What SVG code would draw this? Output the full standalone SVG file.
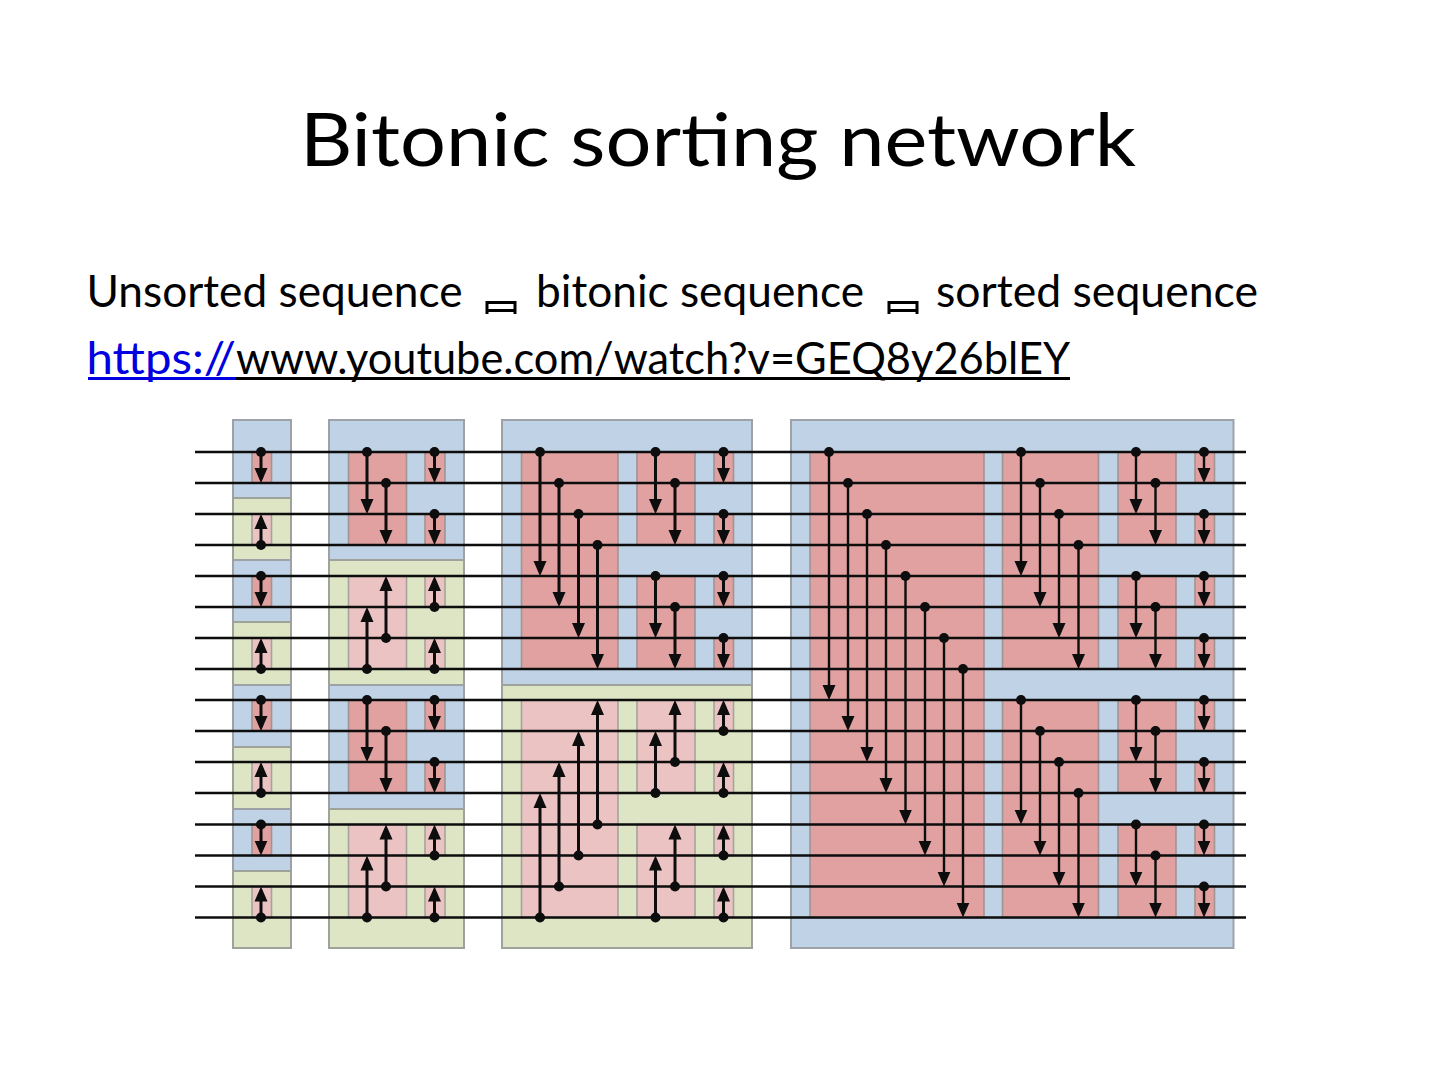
<svg xmlns="http://www.w3.org/2000/svg" width="1440" height="1080" viewBox="0 0 1440 1080">
<style>
text{font-family:"Lato","Noto Sans",sans-serif;fill:#000}
.t{font-size:74px}
.b{font-size:44px}
.link{fill:#0000e0}
.bl{fill:#c0d2e6;stroke:#9da2a8;stroke-width:2}
.gr{fill:#dde5c5;stroke:#9da29a;stroke-width:2}
.r{fill:#e0a1a0;stroke:#a09494;stroke-width:1.6}
.p{fill:#ebc3c3;stroke:#a5a39b;stroke-width:1.6}
.w{stroke:#0c0c0c;stroke-width:2.4;fill:none}
.d{stroke:#0a0a0a;stroke-width:3;fill:none;marker-start:url(#dot);marker-end:url(#tip)}
.thin .d{stroke-width:2.4}
.tofu{fill:none;stroke:#000;stroke-width:3}
</style>
<defs>
<filter id="soft" x="-2%" y="-2%" width="104%" height="104%"><feGaussianBlur stdDeviation="0.55"/></filter>
<marker id="tip" markerUnits="userSpaceOnUse" markerWidth="18" markerHeight="16" viewBox="0 0 18 16" refX="11" refY="8" orient="auto"><path d="M0 1.500L15 8L0 14.500Z" fill="#0a0a0a"/></marker>
<marker id="dot" markerUnits="userSpaceOnUse" markerWidth="12" markerHeight="12" viewBox="0 0 12 12" refX="6" refY="6"><circle cx="6" cy="6" r="5" fill="#0a0a0a"/></marker>
</defs>

<g id="title"><text class="t" x="300" y="166" textLength="836" lengthAdjust="spacingAndGlyphs">Bitonic sorting network</text></g>

<g id="line1">
<text class="b" x="86.500" y="307" textLength="376" lengthAdjust="spacingAndGlyphs">Unsorted sequence</text>
<path class="tofu" d="M487 314V302.500H515V314M487 310.500H515"/>
<text class="b" x="536" y="307" textLength="328" lengthAdjust="spacingAndGlyphs">bitonic sequence</text>
<path class="tofu" d="M889 314V302.500H917V314M889 310.500H917"/>
<text class="b" x="936" y="307" textLength="322" lengthAdjust="spacingAndGlyphs">sorted sequence</text>
</g>
<g id="line2">
<text class="b link" x="86.500" y="374" textLength="149.500" lengthAdjust="spacingAndGlyphs">https://</text>
<text class="b" x="236" y="374" textLength="834" lengthAdjust="spacingAndGlyphs">www.youtube.com/watch?v=GEQ8y26blEY</text>
<rect x="88" y="377" width="148" height="3" fill="#0000e0"/>
<rect x="236" y="377" width="834" height="3" fill="#000"/>
</g>

<g id="network" filter="url(#soft)">
<g id="stage1">
<rect class="bl" x="233" y="420" width="58" height="78"/>
<rect class="gr" x="233" y="498" width="58" height="62"/>
<rect class="bl" x="233" y="560" width="58" height="62"/>
<rect class="gr" x="233" y="622" width="58" height="63"/>
<rect class="bl" x="233" y="685" width="58" height="62"/>
<rect class="gr" x="233" y="747" width="58" height="62"/>
<rect class="bl" x="233" y="809" width="58" height="62"/>
<rect class="gr" x="233" y="871" width="58" height="77"/>
<rect class="r" x="252" y="452" width="19.500" height="31"/>
<rect class="p" x="252" y="514" width="19.500" height="31"/>
<rect class="r" x="252" y="576" width="19.500" height="31"/>
<rect class="p" x="252" y="638" width="19.500" height="31"/>
<rect class="r" x="252" y="700" width="19.500" height="31"/>
<rect class="p" x="252" y="762" width="19.500" height="31"/>
<rect class="r" x="252" y="824.500" width="19.500" height="31"/>
<rect class="p" x="252" y="886.500" width="19.500" height="31"/>
</g>
<g id="stage2">
<rect class="bl" x="329" y="420" width="135" height="140"/>
<rect class="gr" x="329" y="560" width="135" height="125"/>
<rect class="bl" x="329" y="685" width="135" height="124"/>
<rect class="gr" x="329" y="809" width="135" height="139"/>
<rect class="r" x="348.500" y="452" width="58" height="93"/>
<rect class="p" x="348.500" y="576" width="58" height="93"/>
<rect class="r" x="348.500" y="700" width="58" height="93"/>
<rect class="p" x="348.500" y="824.500" width="58" height="93"/>
<rect class="r" x="425" y="452" width="20" height="31"/>
<rect class="r" x="425" y="514" width="20" height="31"/>
<rect class="p" x="425" y="576" width="20" height="31"/>
<rect class="p" x="425" y="638" width="20" height="31"/>
<rect class="r" x="425" y="700" width="20" height="31"/>
<rect class="r" x="425" y="762" width="20" height="31"/>
<rect class="p" x="425" y="824.500" width="20" height="31"/>
<rect class="p" x="425" y="886.500" width="20" height="31"/>
</g>
<g id="stage3">
<rect class="bl" x="502" y="420" width="250" height="265"/>
<rect class="gr" x="502" y="685" width="250" height="263"/>
<rect class="r" x="521.500" y="452" width="96.500" height="217"/>
<rect class="p" x="521.500" y="700" width="96.500" height="217.500"/>
<rect class="r" x="637" y="452" width="58" height="93"/>
<rect class="r" x="637" y="576" width="58" height="93"/>
<rect class="p" x="637" y="700" width="58" height="93"/>
<rect class="p" x="637" y="824.500" width="58" height="93"/>
<rect class="r" x="714" y="452" width="19.500" height="31"/>
<rect class="r" x="714" y="514" width="19.500" height="31"/>
<rect class="r" x="714" y="576" width="19.500" height="31"/>
<rect class="r" x="714" y="638" width="19.500" height="31"/>
<rect class="p" x="714" y="700" width="19.500" height="31"/>
<rect class="p" x="714" y="762" width="19.500" height="31"/>
<rect class="p" x="714" y="824.500" width="19.500" height="31"/>
<rect class="p" x="714" y="886.500" width="19.500" height="31"/>
</g>
<g id="stage4">
<rect class="bl" x="791" y="420" width="442.500" height="528"/>
<rect class="r" x="810" y="452" width="174" height="465.500"/>
<rect class="r" x="1002.500" y="452" width="96" height="217"/>
<rect class="r" x="1002.500" y="700" width="96" height="217.500"/>
<rect class="r" x="1118" y="452" width="58" height="93"/>
<rect class="r" x="1118" y="576" width="58" height="93"/>
<rect class="r" x="1118" y="700" width="58" height="93"/>
<rect class="r" x="1118" y="824.500" width="58" height="93"/>
<rect class="r" x="1195" y="452" width="19.500" height="31"/>
<rect class="r" x="1195" y="514" width="19.500" height="31"/>
<rect class="r" x="1195" y="576" width="19.500" height="31"/>
<rect class="r" x="1195" y="638" width="19.500" height="31"/>
<rect class="r" x="1195" y="700" width="19.500" height="31"/>
<rect class="r" x="1195" y="762" width="19.500" height="31"/>
<rect class="r" x="1195" y="824.500" width="19.500" height="31"/>
<rect class="r" x="1195" y="886.500" width="19.500" height="31"/>
</g>
<g id="wires">
<path class="w" d="M195 452H1246M195 483H1246M195 514H1246M195 545H1246M195 576H1246M195 607H1246M195 638H1246M195 669H1246M195 700H1246M195 731H1246M195 762H1246M195 793H1246M195 824.500H1246M195 855.500H1246M195 886.500H1246M195 917.500H1246"/>
</g>
<g id="connectors">
<path class="d" d="M261 452V479"/><path class="d" d="M261 545V518"/><path class="d" d="M261 576V603"/><path class="d" d="M261 669V642"/>
<path class="d" d="M261 700V727"/><path class="d" d="M261 793V766"/><path class="d" d="M261 824.500V851.500"/><path class="d" d="M261 917.500V890.500"/>

<path class="d" d="M367 452V510"/><path class="d" d="M386 483V541"/><path class="d" d="M434.500 452V479"/><path class="d" d="M434.500 514V541"/>
<path class="d" d="M367 669V611"/><path class="d" d="M386 638V580"/><path class="d" d="M434.500 607V580"/><path class="d" d="M434.500 669V642"/>
<path class="d" d="M367 700V758"/><path class="d" d="M386 731V789"/><path class="d" d="M434.500 700V727"/><path class="d" d="M434.500 762V789"/>
<path class="d" d="M367 917.500V859.500"/><path class="d" d="M386 886.500V828.500"/><path class="d" d="M434.500 855.500V828.500"/><path class="d" d="M434.500 917.500V890.500"/>

<path class="d" d="M540 452V572"/><path class="d" d="M559 483V603"/><path class="d" d="M578.500 514V634"/><path class="d" d="M597.500 545V665"/>
<path class="d" d="M655.500 452V510"/><path class="d" d="M675 483V541"/><path class="d" d="M655.500 576V634"/><path class="d" d="M675 607V665"/>
<path class="d" d="M723.500 452V479"/><path class="d" d="M723.500 514V541"/><path class="d" d="M723.500 576V603"/><path class="d" d="M723.500 638V665"/>
<path class="d" d="M540 917.500V797"/><path class="d" d="M559 886.500V766"/><path class="d" d="M578.500 855.500V735"/><path class="d" d="M597.500 824.500V704"/>
<path class="d" d="M655.500 793V735"/><path class="d" d="M675 762V704"/><path class="d" d="M655.500 917.500V859.500"/><path class="d" d="M675 886.500V828.500"/>
<path class="d" d="M723.500 731V704"/><path class="d" d="M723.500 793V766"/><path class="d" d="M723.500 855.500V828.500"/><path class="d" d="M723.500 917.500V890.500"/>

<g class="thin">
<path class="d" d="M829 452V696"/><path class="d" d="M848 483V727"/><path class="d" d="M867 514V758"/><path class="d" d="M886 545V789"/>
<path class="d" d="M905.500 576V820.500"/><path class="d" d="M925 607V851.500"/><path class="d" d="M944 638V882.500"/><path class="d" d="M963 669V913.500"/>
<path class="d" d="M1021 452V572"/><path class="d" d="M1040 483V603"/><path class="d" d="M1059 514V634"/><path class="d" d="M1078.500 545V665"/>
<path class="d" d="M1021 700V820.500"/><path class="d" d="M1040 731V851.500"/><path class="d" d="M1059 762V882.500"/><path class="d" d="M1078.500 793V913.500"/>
<path class="d" d="M1136 452V510"/><path class="d" d="M1155.500 483V541"/><path class="d" d="M1136 576V634"/><path class="d" d="M1155.500 607V665"/>
<path class="d" d="M1136 700V758"/><path class="d" d="M1155.500 731V789"/><path class="d" d="M1136 824.500V882.500"/><path class="d" d="M1155.500 855.500V913.500"/>
<path class="d" d="M1204 452V479"/><path class="d" d="M1204 514V541"/><path class="d" d="M1204 576V603"/><path class="d" d="M1204 638V665"/>
<path class="d" d="M1204 700V727"/><path class="d" d="M1204 762V789"/><path class="d" d="M1204 824.500V851.500"/><path class="d" d="M1204 886.500V913.500"/>
</g>
</g>
</g>
</svg>
